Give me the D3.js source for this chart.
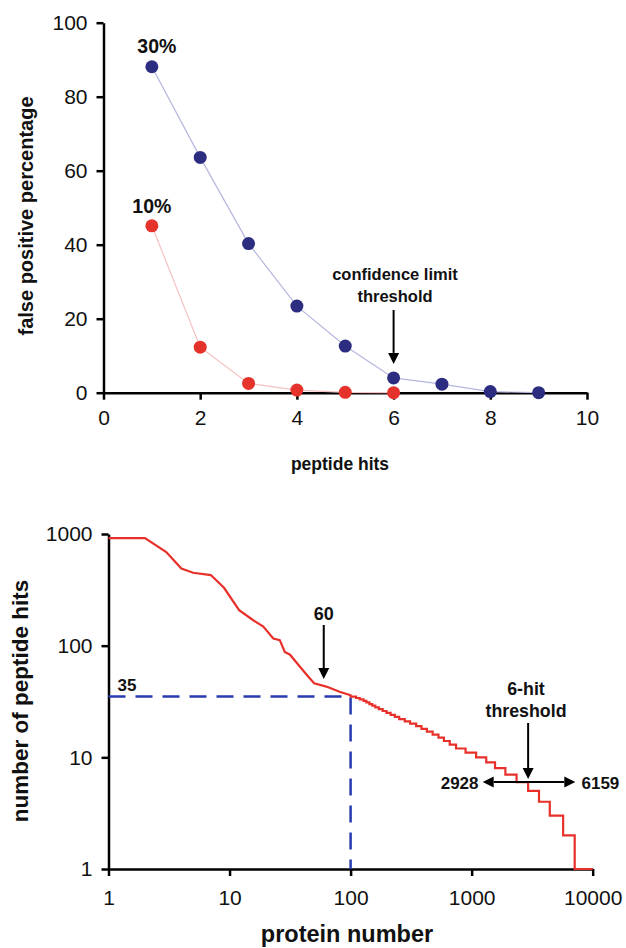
<!DOCTYPE html>
<html>
<head>
<meta charset="utf-8">
<script src="https://cdn.jsdelivr.net/npm/d3@7"></script>
<style>
  body { margin: 0; background: #fff; }
  text { font-family: "Liberation Sans", Arial, sans-serif; }
</style>
</head>
<body>
<svg id="chart" width="626" height="948"></svg>
<script>
// top panel: false positive % vs peptide hits
var peptideHits = [1, 2, 3, 4, 5, 6, 7, 8, 9];
var fp30 = [88.1, 63.6, 40.3, 23.4, 12.6, 4.0, 2.3, 0.3, 0];
var fp10 = [45.1, 12.3, 2.5, 0.7, 0.1, 0];
var topXTicks = [0, 2, 4, 6, 8, 10];
var topYTicks = [0, 20, 40, 60, 80, 100];

// bottom panel: ranked proteins (log-log)
var headRank = [1, 2, 3, 4, 5, 7, 9, 12, 15.7, 19, 23, 26, 28.6, 31.6, 38, 44.6, 50, 63, 81, 100];
var headHits = [920, 920, 690, 490, 450, 429, 330, 208, 169, 148, 116, 112, 88, 83, 65, 53, 46, 43, 38.6, 36];
var stepHits = [35, 34, 33, 32, 31, 30, 29, 28, 27, 26, 25, 24, 23, 22, 21, 20, 19, 18, 17, 16, 15, 14, 13, 12, 11, 10, 9, 8, 7, 6, 5, 4, 3, 2, 1];
var stepEnd = [111, 119, 128, 135, 143, 151, 160, 171, 184, 198, 214, 232, 252, 280, 310, 348, 385, 427, 476, 532, 590, 659, 743, 891, 1089, 1319, 1560, 1900, 2350, 2928, 3600, 4420, 5700, 7100, 10000];
var botXTicks = [1, 10, 100, 1000, 10000];
var botYTicks = [1, 10, 100, 1000];

var svg = d3.select("#chart");

function styleAxis(g) {
	g.select(".domain").attr("stroke", "#000").attr("stroke-width", 2.5);
	g.selectAll(".tick line").attr("stroke", "#000").attr("stroke-width", 2.5);
	g.selectAll(".tick text").attr("fill", "#111").style("font-size", "21px")
		.style("font-family", "'Liberation Sans', Arial, sans-serif");
}

function arrow(x1, y1, x2, y2) {
	var a = Math.atan2(y2 - y1, x2 - x1), len = 11, w = 5.5;
	var bx = x2 - len * Math.cos(a), by = y2 - len * Math.sin(a);
	svg.append("line").attr("x1", x1).attr("y1", y1).attr("x2", bx).attr("y2", by)
		.attr("stroke", "#000").attr("stroke-width", 2);
	svg.append("path")
		.attr("d", "M" + x2 + "," + y2 +
			"L" + (bx + w * Math.sin(a)) + "," + (by - w * Math.cos(a)) +
			"L" + (bx - w * Math.sin(a)) + "," + (by + w * Math.cos(a)) + "Z")
		.attr("fill", "#000");
}

function label(x, y, txt, size, anchor) {
	svg.append("text").attr("x", x).attr("y", y).attr("text-anchor", anchor || "middle")
		.style("font-size", size + "px").style("font-weight", "bold").attr("fill", "#111").text(txt);
}

//---------- top chart
var xTop = d3.scaleLinear().domain([0, 10]).range([103.5, 587]);
var yTop = d3.scaleLinear().domain([0, 100]).range([392.7, 22.7]);

svg.append("g").attr("transform", "translate(0,392.7)")
	.call(d3.axisBottom(xTop).tickValues(topXTicks).tickSize(7).tickSizeOuter(0).tickPadding(10))
	.call(styleAxis);
svg.append("g").attr("transform", "translate(103.5,0)")
	.call(d3.axisLeft(yTop).tickValues(topYTicks).tickSize(7).tickSizeOuter(0).tickPadding(9))
	.call(styleAxis);

var lineTop = d3.line()
	.x(function(d, i) { return xTop(peptideHits[i]); })
	.y(function(d) { return yTop(d); });

svg.append("path").datum(fp10).attr("d", lineTop).attr("fill", "none")
	.attr("stroke", "#f4c0c0").attr("stroke-width", 1.2);
svg.append("path").datum(fp30).attr("d", lineTop).attr("fill", "none")
	.attr("stroke", "#b4b6df").attr("stroke-width", 1.2);

svg.selectAll(".d30").data(fp30).enter().append("circle")
	.attr("cx", function(d, i) { return xTop(peptideHits[i]); })
	.attr("cy", function(d) { return yTop(d); })
	.attr("r", 6.5).attr("fill", "#2c2d80");
svg.selectAll(".d10").data(fp10).enter().append("circle")
	.attr("cx", function(d, i) { return xTop(peptideHits[i]); })
	.attr("cy", function(d) { return yTop(d); })
	.attr("r", 6.5).attr("fill", "#e5322a");

label(xTop(1) + 5, 53, "30%", 19.5);
label(xTop(1), 213, "10%", 19.5);
label(395, 280, "confidence limit", 16.5);
label(395, 301.5, "threshold", 16.5);
arrow(xTop(6), 310, xTop(6), yTop(fp30[5]) - 14);

label(340, 470, "peptide hits", 17.5);
svg.append("text").attr("transform", "translate(33,216) rotate(-90)")
	.attr("text-anchor", "middle").style("font-size", "20px").style("font-weight", "bold")
	.attr("fill", "#111").text("false positive percentage");

//---------- bottom chart
var xBot = d3.scaleLog().domain([1, 10000]).range([108.5, 592.7]);
var yBot = d3.scaleLog().domain([1, 1000]).range([869, 534]);

svg.append("g").attr("transform", "translate(0,869)")
	.call(d3.axisBottom(xBot).tickValues(botXTicks).tickFormat(d3.format("d")).tickSize(7).tickSizeOuter(0).tickPadding(14))
	.call(styleAxis);
svg.append("g").attr("transform", "translate(108.5,0)")
	.call(d3.axisLeft(yBot).tickValues(botYTicks).tickFormat(d3.format("d")).tickSize(7).tickSizeOuter(0).tickPadding(9))
	.call(styleAxis);

// dashed guide at 100 proteins / 35 hits
svg.append("path")
	.attr("d", "M" + xBot(1) + "," + yBot(35) + "L" + xBot(100) + "," + yBot(35) + "L" + xBot(100) + "," + yBot(1))
	.attr("fill", "none").attr("stroke", "#2a3bb0").attr("stroke-width", 2.5)
	.attr("stroke-dasharray", "17,10");

// build rank curve: head points, then hit-count stairs
var curve = headRank.map(function(r, i) { return [r, headHits[i]]; });
stepHits.forEach(function(h, i) {
	var start = i === 0 ? 100 : stepEnd[i - 1];
	curve.push([start, h]);
	curve.push([stepEnd[i], h]);
});

var lineBot = d3.line()
	.x(function(d) { return xBot(d[0]); })
	.y(function(d) { return yBot(d[1]); });

svg.append("path").datum(curve).attr("d", lineBot).attr("fill", "none")
	.attr("stroke", "#e8302a").attr("stroke-width", 2.2);

label(127, 690.5, "35", 17);
label(xBot(60), 620, "60", 18);
arrow(xBot(60), 625, xBot(60), 679);

label(526, 695, "6-hit", 17.8);
label(526, 717, "threshold", 17.8);
arrow(xBot(2928), 723, xBot(2928), yBot(6) - 3);
arrow(xBot(2928), yBot(6), 482.7, yBot(6));
arrow(xBot(2928), yBot(6), 575.3, yBot(6));
label(478.5, 788.5, "2928", 17, "end");
label(581.5, 788.5, "6159", 17, "start");

label(347, 942, "protein number", 23.5);
svg.append("text").attr("transform", "translate(28,701) rotate(-90)")
	.attr("text-anchor", "middle").style("font-size", "22.5px").style("font-weight", "bold")
	.attr("fill", "#111").text("number of peptide hits");
</script>
</body>
</html>
